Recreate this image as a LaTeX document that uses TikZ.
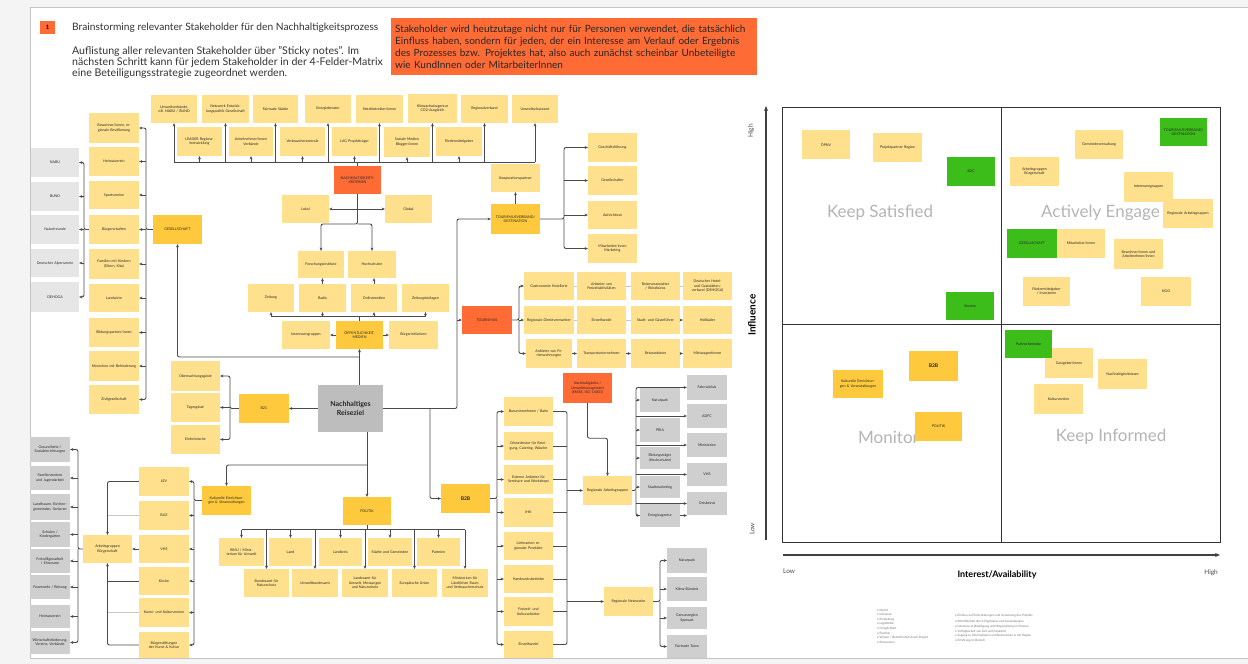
\documentclass[tikz,border=0pt]{standalone}
\usepackage{fontspec}
\setmainfont{Lato}
\usetikzlibrary{arrows.meta}
\definecolor{clt}{HTML}{FFE08C}
\definecolor{cdk}{HTML}{FFC93D}
\definecolor{cog}{HTML}{FF6B35}
\definecolor{cgl}{HTML}{E6E6E6}
\definecolor{cgd}{HTML}{CFCFCF}
\definecolor{cgn}{HTML}{3CBD19}
\definecolor{crz}{HTML}{BDBDBD}
\definecolor{cln}{HTML}{4A4A4A}
\definecolor{clnl}{HTML}{C8C8C8}
\definecolor{cbg}{HTML}{F4F4F4}
\definecolor{cfr}{HTML}{C4C4C4}
\definecolor{cq}{HTML}{B5B5B5}
\tikzset{
 note/.style={inner sep=0pt, align=center, font=\fontsize{3.6}{4.4}\selectfont, text=black!85},
 ltn/.style={note, fill=clt},
 dkn/.style={note, fill=cdk},
 ogn/.style={note, fill=cog},
 gln/.style={note, fill=cgl},
 gdn/.style={note, fill=cgd},
 gnn/.style={note, fill=cgn},
 rzn/.style={note, fill=crz, font=\bfseries\fontsize{7}{8.4}\selectfont},
 cn/.style={draw=cln, line width=0.9pt, rounded corners=2pt},
 ar/.style={cn, -{Stealth[length=3.2pt,width=3pt]}},
 cnl/.style={draw=clnl, line width=0.9pt},
 arl/.style={cnl, -{Stealth[length=3.2pt,width=3pt]}},
 mx/.style={draw=black!80, line width=1pt},
 axl/.style={draw=black!75, line width=1.2pt, -{Stealth[length=5pt,width=4pt]}},
 quad/.style={text=cq, font=\fontsize{17}{20}\selectfont, inner sep=0pt},
 leg/.style={anchor=west, inner sep=0pt, text=black!55, font=\fontsize{3}{3.6}\selectfont}
}
\newcommand{\stk}[7]{%
 \pgfmathsetmacro\stkw{#4-#3}%
 \pgfmathsetmacro\stkh{#6-#5}%
 \pgfmathsetmacro\stkt{#4-#3-5}%
 \pgfmathsetmacro\stkx{(#3+#4)/2}%
 \pgfmathsetmacro\stky{(#5+#6)/2}%
 \node[#1, minimum width=\stkw pt, minimum height=\stkh pt, text width=\stkt pt] (#2) at (\stkx,\stky) {#7};}
\begin{document}
\begin{tikzpicture}[x=1pt,y=-1pt]
\useasboundingbox (0,0) rectangle (1248,664);
\fill[cbg] (0,0) rectangle (1248,664);
\fill[white] (30,7) rectangle (1248,658);
\draw[cfr, line width=1pt] (1248,7) -- (30,7) -- (30,658) -- (1248,658);

% ---------------- header
\node[fill=cog, minimum width=15pt, minimum height=13pt, inner sep=0pt, font=\bfseries\fontsize{6}{6}\selectfont] (num) at (47.5,27) {1};
\node[anchor=west, inner sep=0pt, font=\fontsize{10.2}{12}\selectfont, text=black!80] (title) at (72,28) {Brainstorming relevanter Stakeholder für den Nachhaltigkeitsprozess};
\node[anchor=north west, inner sep=0pt, align=left, font=\fontsize{10.6}{11.3}\selectfont, text=black!80] (para) at (72,46) {Auflistung aller relevanten Stakeholder über "Sticky notes". Im\\nächsten Schritt kann für jedem Stakeholder in der 4-Felder-Matrix\\eine Beteiligungsstrategie zugeordnet werden.};
\node[fill=cog, anchor=north west, minimum width=366pt, minimum height=57pt, text width=358pt, inner xsep=4pt, inner ysep=0pt, align=left, font=\fontsize{10}{12}\selectfont, text=black!85] (obox) at (391,18) {Stakeholder wird heutzutage nicht nur für Personen verwendet, die tatsächlich\\Einfluss haben, sondern für jeden, der ein Interesse am Verlauf oder Ergebnis\\des Prozesses bzw. Projektes hat, also auch zunächst scheinbar Unbeteiligte\\wie KundInnen oder MitarbeiterInnen};

% ---------------- top rows
\stk{ltn}{t1}{151}{197}{95}{123}{Umweltverbände, z.B. NABU / BUND}
\stk{ltn}{t2}{202}{249}{95}{123}{Netzwerk Entwicklungspolitik Gesellschaft}
\stk{ltn}{t3}{253}{298}{95}{123}{Fairtrade Städte}
\stk{ltn}{t4}{305}{351}{95}{123}{Energieberater}
\stk{ltn}{t5}{356}{403}{95}{123}{Hotelbetreiber/innen}
\stk{ltn}{t6}{408}{457}{94}{123}{Klimaschutzagentur CO2-Ausgleich}
\stk{ltn}{t7}{461}{508}{95}{123}{Regionalverband}
\stk{ltn}{t8}{512}{558}{95}{123}{Umweltschutzamt}
\stk{ltn}{u1}{177}{222}{127}{156}{LEADER Regionalentwicklung}
\stk{ltn}{u2}{229}{273}{127}{156}{Arbeitnehmer/innen Verbände}
\stk{ltn}{u3}{280}{325}{127}{156}{Verbraucherzentrale}
\stk{ltn}{u4}{332}{377}{127}{156}{LAG Projektträger}
\stk{ltn}{u5}{384}{430}{127}{157}{Soziale Medien Blogger/innen}
\stk{ltn}{u6}{436}{482}{127}{156}{Fördermittelgeber}

% ---------------- centre cluster
\stk{ogn}{nk}{334}{381}{166}{194}{NACHHALTIGKEITS-\\KRITERIEN}
\stk{ltn}{l1}{282}{329}{195}{223}{Lokal}
\stk{ltn}{r1}{385}{432}{195}{223}{Global}
\stk{ltn}{f1}{298}{344}{251}{278}{Forschungsinstitute}
\stk{ltn}{f2}{348}{396}{251}{278}{Hochschulen}
\stk{ltn}{m1}{248}{294}{284}{312}{Zeitung}
\stk{ltn}{m2}{299}{346}{284}{312}{Radio}
\stk{ltn}{m3}{351}{397}{284}{312}{Onlinemedien}
\stk{ltn}{m4}{402}{449}{284}{312}{Zeitungsbeilagen}
\stk{ltn}{ig}{282}{330}{321}{349}{Interessengruppen}
\stk{dkn}{o1}{336}{383}{321}{349}{ÖFFENTLICHKEIT, MEDIEN}
\stk{ltn}{bi}{389}{438}{321}{349}{Bürgerinitiativen}
\stk{rzn}{rz}{318}{383}{385}{432}{Nachhaltiges\\Reiseziel}

% ---------------- left: Gesellschaft
\stk{dkn}{ge}{153}{202}{215}{244}{GESELLSCHAFT}
\stk{ltn}{c1}{89}{139}{113}{143}{Bewohner/innen, regionale Bevölkerung}
\stk{ltn}{c2}{89}{139}{147}{176}{Heimatverein}
\stk{ltn}{c3}{89}{139}{181}{209}{Sportvereine}
\stk{ltn}{c4}{89}{139}{215}{244}{Bürgerschaften}
\stk{ltn}{c5}{89}{139}{249}{279}{Familien mit Kindern (Eltern, Kita)}
\stk{ltn}{c6}{89}{139}{284}{312}{Landwirte}
\stk{ltn}{c7}{89}{139}{318}{347}{Bildungspartner/innen}
\stk{ltn}{c8}{89}{139}{351}{381}{Menschen mit Behinderung}
\stk{ltn}{c9}{89}{139}{385}{414}{Zivilgesellschaft}
\stk{gln}{g1}{31}{79}{148}{177}{NABU}
\stk{gln}{g2}{31}{79}{182}{211}{BUND}
\stk{gln}{g3}{31}{79}{215}{244}{Naturfreunde}
\stk{gln}{g4}{31}{79}{249}{277}{Deutscher Alpenverein}
\stk{gln}{g5}{31}{79}{282}{312}{DEHOGA}

% ---------------- B2C
\stk{ltn}{p1}{171}{220}{361}{391}{Übernachtungsgäste}
\stk{ltn}{p2}{171}{220}{393}{422}{Tagesgäste}
\stk{ltn}{p3}{171}{220}{425}{454}{Einheimische}
\stk{dkn}{bc}{239}{289}{394}{423}{B2C}

% ---------------- Kultur
\stk{dkn}{ku}{202}{251}{486}{515}{Kulturelle Einrichtungen \& Veranstaltungen}
\stk{ltn}{k1}{139}{189}{467}{496}{LEV}
\stk{ltn}{k2}{139}{189}{501}{530}{BUZ}
\stk{ltn}{k3}{139}{189}{535}{563}{VHS}
\stk{ltn}{k4}{139}{189}{567}{595}{Kirche}
\stk{ltn}{k5}{139}{189}{598}{627}{Kunst- und Kulturvereine}
\stk{ltn}{k6}{139}{189}{632}{658}{Bürgerstiftungen der Kunst \& Kultur}
\stk{ltn}{ag}{83}{132}{535}{563}{Arbeitsgruppen Bürgerschaft}
\stk{gdn}{h1}{30}{70}{437}{462}{Gesundheits-/ Sozialeinrichtungen}
\stk{gdn}{h2}{30}{70}{466}{490}{Familienzentren und Jugendarbeit}
\stk{gdn}{h3}{30}{70}{494}{520}{Landfrauen, Kirchen\-gemeinden, Senioren}
\stk{gdn}{h4}{30}{70}{522}{547}{Schulen / Kindergärten}
\stk{gdn}{h5}{30}{70}{549}{573}{Freiwilligenarbeit / Ehrenamt}
\stk{gdn}{h6}{30}{70}{575}{599}{Feuerwehr / Rettung}
\stk{gdn}{h7}{30}{70}{605}{628}{Heimatverein}
\stk{gdn}{h8}{30}{70}{631}{654}{Wirtschafts\-förderung, Vereine, Verbände}

% ---------------- Politik
\stk{dkn}{po}{343}{391}{497}{525}{POLITIK}
\stk{ltn}{q1}{219}{264}{538}{566}{BMU / Ministerium für Umwelt}
\stk{ltn}{q2}{269}{312}{538}{566}{Land}
\stk{ltn}{q3}{319}{362}{538}{566}{Landkreis}
\stk{ltn}{q4}{368}{412}{538}{566}{Städte und Gemeinden}
\stk{ltn}{q5}{417}{460}{538}{566}{Parteien}
\stk{ltn}{s1}{244}{289}{569}{597}{Bundesamt für Naturschutz}
\stk{ltn}{s2}{292}{338}{569}{597}{Umweltbundesamt}
\stk{ltn}{s3}{342}{388}{569}{597}{Landesamt für Umwelt, Messungen und Naturschutz}
\stk{ltn}{s4}{392}{437}{569}{597}{Europäische Union}
\stk{ltn}{s5}{442}{488}{569}{597}{Ministerium für Ländlichen Raum und Verbraucherschutz}

% ---------------- B2B
\stk{dkn}{bb}{441}{490}{484}{513}{\bfseries\fontsize{5}{6}\selectfont B2B}
\stk{ltn}{v1}{504}{553}{397}{426}{Busunternehmen / Bahn}
\stk{ltn}{v2}{504}{553}{432}{460}{Dienstleister für Reinigung, Catering, Wäsche}
\stk{ltn}{v3}{504}{553}{465}{494}{Externe Anbieter für Seminare und Workshops}
\stk{ltn}{v4}{504}{553}{498}{527}{IHK}
\stk{ltn}{v5}{504}{553}{532}{560}{Lieferanten regionaler Produkte}
\stk{ltn}{v6}{504}{553}{565}{593}{Handwerksbetriebe}
\stk{ltn}{v7}{504}{553}{597}{626}{Freizeit- und Kulturanbieter}
\stk{ltn}{v8}{504}{553}{631}{658}{Einzelhandel}
\stk{ogn}{em}{563}{612}{373}{403}{Nachhaltigkeits-/ Umweltmanagement (EMAS, ISO 14001)}
\stk{ltn}{ra}{583}{632}{476}{505}{Regionale Arbeitsgruppen}
\stk{ltn}{pn}{604}{653}{587}{616}{Regionale Netzwerke}

% ---------------- Tourismus
\stk{ltn}{kp}{491}{540}{164}{192}{Kooperationspartner}
\stk{dkn}{tv}{491}{540}{204}{234}{TOURISMUSVERBAND/ DESTINATION}
\stk{ltn}{e1}{588}{637}{133}{162}{Geschäftsführung}
\stk{ltn}{e2}{588}{637}{166}{195}{Gesellschafter}
\stk{ltn}{e3}{588}{637}{201}{229}{Aufsichtsrat}
\stk{ltn}{e4}{588}{637}{234}{263}{Mitarbeiter/innen Marketing}
\stk{ogn}{tu}{462}{512}{306}{334}{TOURISMUS}
\stk{ltn}{ta1}{524}{574}{272}{300}{Gastronomie Hotellerie}
\stk{ltn}{ta2}{577}{626}{272}{300}{Anbieter von Freizeitaktivitäten}
\stk{ltn}{ta3}{631}{680}{272}{300}{Reiseveranstalter / Reisebüros}
\stk{ltn}{ta4}{683}{732}{272}{300}{Deutscher Hotel- und Gaststättenverband (DEHOGA)}
\stk{ltn}{tb1}{524}{574}{306}{334}{Regionale Direktvermarkter}
\stk{ltn}{tb2}{577}{626}{306}{334}{Einzelhandel}
\stk{ltn}{tb3}{631}{680}{306}{334}{Stadt- und Gästeführer}
\stk{ltn}{tb4}{683}{732}{306}{334}{Heilbäder}
\stk{ltn}{tc1}{526}{572}{339}{368}{Anbieter von Ferienwohnungen}
\stk{ltn}{tc2}{577}{626}{339}{368}{Transportunternehmen}
\stk{ltn}{tc3}{631}{680}{339}{368}{Reiseanbieter}
\stk{ltn}{tc4}{683}{732}{339}{368}{Mietwagenfirmen}

% ---------------- connectors: top
\coordinate (busT) at (357.5,162);
\draw[cn] (nk.north) -- (nk.north |- busT);
\draw[cn] (t1.south |- busT) -- (t8.south |- busT);
\foreach \n in {t1,t2,t3,t4,t5,t6,t7,t8,u1,u2,u3,u4,u5,u6}
  \draw[ar] (\n.south |- busT) -- (\n.south);
\coordinate (nkb) at (357.5,224);
\draw[ar] (nk.south) -- (nkb) -| (f1.north);
\draw[ar] (nkb) -| (f2.north);
\draw[ar] (nk.south |- l1.east) -- (l1.east);
\draw[ar] (nk.south |- r1.west) -- (r1.west);
\coordinate (busM) at (359.5,316);
\draw[cn] (o1.north) -- (busM);
\draw[cn] (m1.south |- busM) -- (m4.south |- busM);
\foreach \n in {m1,m2,m3,m4}
  \draw[ar] (\n.south |- busM) -- (\n.south);
\draw[ar] (m2.north) -- (m2.north |- f1.south);
\draw[ar] (m3.north) -- (m3.north |- f2.south);
\draw[ar] (o1.west) -- (ig.east);
\draw[ar] (o1.east) -- (bi.west);

% hub
\coordinate (hubY) at (359.5,357);
\draw[ar] (rz.north -| o1.south) -- (o1.south);
\draw[ar] (hubY) -| (ge.south);

% Gesellschaft bracket
\coordinate (brG) at (146,0);
\draw[ar] (ge.west) -- (ge.west -| brG) |- (c1.east);
\draw[ar] (ge.west -| brG) |- (c9.east);
\foreach \n in {c2,c3,c4,c5,c6,c7,c8}
  \draw[ar] (\n.east -| brG) -- (\n.east);
\coordinate (brC) at (84,0);
\draw[ar] (c4.west) -- (c4.west -| brC) |- (g1.east);
\draw[ar] (c4.west -| brC) |- (g5.east);
\foreach \n in {g2,g3,g4}
  \draw[ar] (\n.east -| brC) -- (\n.east);

% B2C
\draw[ar] (rz.west) -- (bc.east);
\coordinate (brB) at (230,0);
\draw[ar] (bc.west) -- (bc.west -| brB) |- (p1.east);
\draw[ar] (bc.west -| brB) |- (p3.east);
\draw[ar] (p2.east -| brB) -- (p2.east);

% Politik and Kultur
\coordinate (kuY) at (0,465);
\draw[ar] (rz.south -| po.north) -- (po.north);
\draw[ar] (po.north |- kuY) -| (ku.north);
\coordinate (poY) at (367,529.5);
\draw[cn] (po.south) -- (poY);
\draw[cn] (q1.north |- poY) -- (s5.north |- poY);
\foreach \n in {q1,q2,q3,q4,q5,s1,s2,s3,s4,s5}
  \draw[ar] (\n.north |- poY) -- (\n.north);

% Kultur bracket
\coordinate (brK) at (194,0);
\draw[ar] (ku.west) -- (ku.west -| brK) |- (k1.east);
\draw[ar] (ku.west -| brK) |- (k6.east);
\foreach \n in {k2,k3,k4,k5}
  \draw[ar] (\n.east -| brK) -- (\n.east);
\draw[ar] (k1.west) -| (ag.north);
\draw[ar] (k6.west) -| (ag.south);
\draw[ar] (k3.west) -- (ag.east);
\draw[cnl] (k2.west) -- (k2.west -| ag.north);
\draw[cnl] (k5.west) -- (k5.west -| ag.north);
\draw[cn] (k4.west) -- (k4.west -| ag.north);
\coordinate (brH) at (78,0);
\draw[ar] (ag.west) -- (ag.west -| brH) |- (h1.east);
\draw[ar] (ag.west -| brH) |- (h8.east);
\foreach \n in {h2,h3,h4,h5,h6,h7}
  \draw[ar] (\n.east -| brH) -- (\n.east);

% right of hub
\coordinate (vx) at (457,0);
\coordinate (vx2) at (430,0);
\draw[ar] (rz.east) -- (rz.east -| vx) |- (tv.west);
\draw[ar] (tu.west -| vx) -- (tu.west);
\draw[ar] (rz.east -| vx2) |- (bb.west);
\draw[ar] (tv.north) -- (kp.south);
\coordinate (brE) at (564,0);
\draw[ar] (tv.east) -- (tv.east -| brE) |- (e1.west);
\draw[ar] (tv.east -| brE) |- (e4.west);
\draw[ar] (e2.west -| brE) -- (e2.west);
\draw[ar] (e3.west -| brE) -- (e3.west);
\coordinate (brT) at (519,0);
\draw[ar] (tu.east) -- (tu.east -| brT) |- (ta1.west);
\draw[ar] (tu.east -| brT) |- (tc1.west);
\draw[ar] (tb1.west -| brT) -- (tb1.west);
\draw[cnl] (ta1.east) -- (ta2.west);
\draw[cnl] (ta2.east) -- (ta3.west);
\draw[cnl] (ta3.east) -- (ta4.west);
\draw[cnl] (tb1.east) -- (tb2.west);
\draw[cnl] (tb2.east) -- (tb3.west);
\draw[ar] (tb3.east) -- (tb4.west);
\draw[ar] (tc1.east) -- (tc2.west);
\draw[ar] (tc2.east) -- (tc3.west);
\draw[ar] (tc3.east) -- (tc4.west);

% B2B brackets
\coordinate (brV) at (497,0);
\draw[ar] (bb.east) -- (bb.east -| brV) |- (v1.west);
\draw[ar] (bb.east -| brV) |- (v8.west);
\foreach \n in {v2,v3,v4,v5,v6,v7}
  \draw[ar] (\n.west -| brV) -- (\n.west);
\coordinate (brV2) at (567,0);
\draw[cn] (v1.east) -- (v1.east -| brV2) -- (v8.east -| brV2) -- (v8.east);
\foreach \n in {v2,v3,v4,v5,v6,v7}
  \draw[cn] (\n.east) -- (\n.east -| brV2);
\draw[ar] (ra.west -| brV2) -- (ra.west);
\draw[ar] (pn.west -| brV2) -- (pn.west);
\draw[ar] (em.south) -- ++(0,35) -| (ra.north);

% gray boxes right
\stk{gdn}{x1}{687}{727}{375}{400}{Fahrradclub}
\stk{gdn}{x2}{687}{727}{404}{428}{ADFC}
\stk{gdn}{x3}{687}{727}{433}{457}{Ministerien}
\stk{gdn}{x4}{687}{727}{463}{486}{VHS}
\stk{gdn}{x5}{687}{727}{492}{515}{Ortsbeirat}
\coordinate (brW) at (636,0);
\draw[ar] (ra.east) -- (ra.east -| brW) |- (x1.west);
\draw[ar] (ra.east -| brW) |- (x5.west |- 0,515.5);
\foreach \n in {x2,x3,x4,x5}
  \draw[ar] (\n.west -| brW) -- (\n.west);
\stk{gdn}{w1}{640}{680}{388}{412}{Naturpark}
\stk{gdn}{w2}{640}{680}{418}{442}{PRIA}
\stk{gdn}{w3}{640}{680}{447}{469}{Bildungsträger (Hochschulen)}
\stk{gdn}{w4}{640}{680}{476}{498}{Stadtmarketing}
\stk{gdn}{w5}{640}{680}{504}{527}{Energie\-agentur}
\foreach \n in {w1,w2,w3,w4,w5}
  \draw[ar] (\n.west -| brW) -- (\n.west);
\stk{gdn}{y1}{667}{707}{548}{573}{Naturpark}
\stk{gdn}{y2}{667}{707}{577}{601}{Klima-Bündnis}
\stk{gdn}{y3}{667}{707}{607}{629}{Genussregion Spessart}
\stk{gdn}{y4}{667}{707}{635}{658}{Fairtrade Town}
\coordinate (brY) at (660,0);
\draw[ar] (pn.east) -- (pn.east -| brY) |- (y1.west);
\draw[ar] (pn.east -| brY) |- (y4.west);
\draw[ar] (y2.west -| brY) -- (y2.west);
\draw[ar] (y3.west -| brY) -- (y3.west);

% ---------------- matrix
\node[quad] (qks) at (880,213) {Keep Satisfied};
\node[quad, anchor=west] (qae) at (1041,213) {Actively Engage};
\node[quad, anchor=west] (qmo) at (858,437) {Monitor};
\node[quad] (qki) at (1111,437) {Keep Informed};
\draw[mx] (782,107) rectangle (1220,542);
\draw[mx] (1001,107) -- (1001,542);
\draw[mx] (782,324) -- (1220,324);
\draw[axl] (766,540) -- (766,106);
\draw[axl] (783,555) -- (1220,555);
\node[rotate=90, inner sep=0pt, font=\fontsize{6.5}{7}\selectfont, text=black!70] (yh) at (751,131) {High};
\node[rotate=90, inner sep=0pt, font=\bfseries\fontsize{10}{12}\selectfont] (yi) at (752,315) {Influence};
\node[rotate=90, inner sep=0pt, font=\fontsize{6.5}{7}\selectfont, text=black!70] (yl) at (752,529) {Low};
\node[anchor=west, inner sep=0pt, font=\fontsize{6.5}{7}\selectfont, text=black!70] (xl) at (783,571) {Low};
\node[inner sep=0pt, font=\bfseries\fontsize{9}{11}\selectfont] (xi) at (997,575) {Interest/Availability};
\node[anchor=east, inner sep=0pt, font=\fontsize{6.5}{7}\selectfont, text=black!70] (xh) at (1218,573) {High};

\stk{ltn}{mq1}{802}{850}{130}{159}{ÖPNV}
\stk{ltn}{mq2}{873}{922}{133}{162}{Projektpartner Region}
\stk{gnn}{mq3}{947}{995}{157}{186}{B2C}
\stk{gnn}{mq4}{946}{994}{292}{320}{Vereine}
\stk{ltn}{mq5}{1075}{1123}{130}{159}{Gemeindeverwaltung}
\stk{gnn}{mq6}{1160}{1207}{118}{146}{TOURISMUSVERBAND/ DESTINATION}
\stk{ltn}{mq7}{1010}{1059}{157}{186}{Arbeitsgruppen Bürgerschaft}
\stk{ltn}{mq8}{1124}{1173}{172}{202}{Interessengruppen}
\stk{ltn}{mq9}{1163}{1213}{199}{228}{Regionale Arbeitsgruppen}
\stk{gnn}{mq10}{1007}{1057}{229}{258}{GESELLSCHAFT}
\stk{ltn}{mq11}{1057}{1105}{229}{258}{Mitarbeiter/innen}
\stk{ltn}{mq12}{1114}{1163}{239}{269}{Bewohner/innen und Arbeitnehmer/innen}
\stk{ltn}{mq13}{1023}{1070}{277}{306}{Fördermittelgeber / Investoren}
\stk{ltn}{mq14}{1141}{1191}{277}{306}{NGO}
\stk{ltn}{mq16}{1045}{1093}{348}{378}{Gastgeber/innen}
\stk{gnn}{mq15}{1005}{1052}{330}{358}{Partnerbetriebe}
\stk{ltn}{mq17}{1098}{1147}{359}{389}{Nachhaltigkeitsteam}
\stk{ltn}{mq18}{1034}{1083}{384}{414}{Kulturvereine}
\stk{dkn}{mq19}{909}{958}{351}{381}{\bfseries\fontsize{5}{6}\selectfont B2B}
\stk{dkn}{mq20}{833}{883}{370}{398}{Kulturelle Einrichtungen \& Veranstaltungen}
\stk{dkn}{mq21}{915}{962}{412}{441}{POLITIK}

% ---------------- legend
\node[leg] (la1) at (877,610) {• Macht};
\node[leg] (la2) at (877,614.6) {• Interesse};
\node[leg] (la3) at (877,619.2) {• Einstellung};
\node[leg] (la4) at (877,623.8) {• Legitimität};
\node[leg] (la5) at (877,628.4) {• Dringlichkeit};
\node[leg] (la6) at (877,633) {• Position};
\node[leg] (la7) at (877,637.6) {• Wissen / Betroffenheit durch Projekt};
\node[leg] (la8) at (877,642.2) {• Ressourcen};
\node[leg] (lb1) at (955,616) {• Einfluss auf Entscheidungen und Umsetzung des Projekts};
\node[leg] (lb2) at (955,622) {• Betroffenheit durch Ergebnisse und Auswirkungen};
\node[leg] (lb3) at (955,626.6) {• Interesse an Beteiligung und Mitgestaltung im Prozess};
\node[leg] (lb4) at (955,631.2) {• Verfügbarkeit von Zeit und Kapazität};
\node[leg] (lb5) at (955,635.8) {• Zugang zu Informationen und Netzwerken in der Region};
\node[leg] (lb6) at (955,640.4) {• Erfahrung im Bereich};
\end{tikzpicture}
\end{document}
